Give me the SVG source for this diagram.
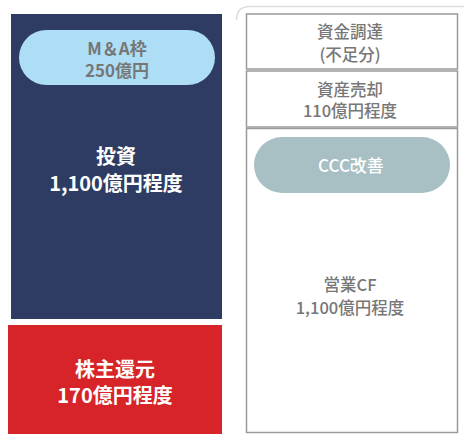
<svg xmlns="http://www.w3.org/2000/svg" width="464" height="434" viewBox="0 0 464 434">
<style>
text{font-family:"Noto Sans CJK JP","Noto Sans",sans-serif;text-anchor:middle}
.w{fill:#ffffff;font-size:20px;font-weight:bold}
.g{fill:#777777;font-size:16.5px;font-weight:500}
.m{fill:#777777;font-size:17px;font-weight:bold}
.box{fill:#ffffff;stroke:#9a9a9a;stroke-width:1.5}
</style>
<rect width="464" height="434" fill="#ffffff"/>
<g id="connectors"></g>
<g id="frame"><path d="M236.5,20 Q236.5,6.5 250,6.5 L464,6.5" fill="none" stroke="#dddddd" stroke-width="1.5"/></g>
<g id="invest">
<rect x="11" y="14" width="211" height="305" fill="#2E3C63"/>
<text class="w" x="116" y="164">投資</text>
<text class="w" x="116" y="191">1,100億円程度</text>
</g>
<g id="ma">
<rect x="19" y="30" width="196" height="55" rx="27.5" fill="#ADDEF5"/>
<text class="m" x="117" y="55">M＆A枠</text>
<text class="m" x="117" y="77">250億円</text>
</g>
<g id="return">
<rect x="8" y="325" width="214" height="109" fill="#D62429"/>
<text class="w" x="115" y="377">株主還元</text>
<text class="w" x="115" y="403">170億円程度</text>
</g>
<g id="funding">
<rect class="box" x="246.5" y="14" width="211" height="55"/>
<text class="g" x="350" y="38">資金調達</text>
<text class="g" x="350" y="61">(不足分)</text>
</g>
<g id="assets">
<rect class="box" x="246.5" y="71" width="211" height="56"/>
<text class="g" x="350" y="96">資産売却</text>
<text class="g" x="350" y="117">110億円程度</text>
</g>
<g id="opcf">
<rect class="box" x="246.5" y="128.5" width="211" height="304"/>
<text class="g" x="350" y="291">営業CF</text>
<text class="g" x="350" y="314">1,100億円程度</text>
</g>
<g id="ccc">
<rect x="254" y="137" width="196" height="56" rx="28" fill="#A8C0C4"/>
<text x="351" y="172" style="fill:#ffffff;font-size:17px;font-weight:500">CCC改善</text>
</g>
</svg>
